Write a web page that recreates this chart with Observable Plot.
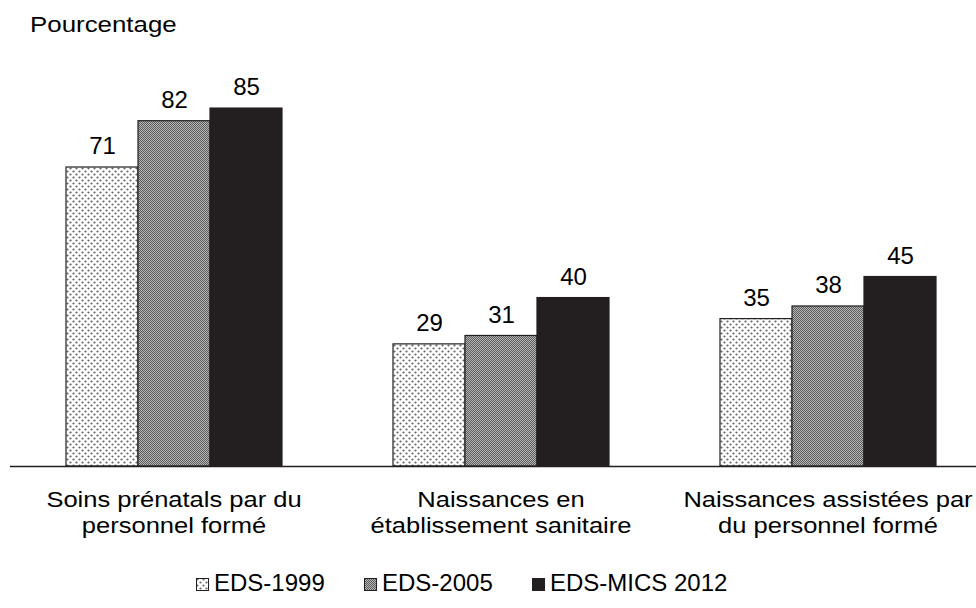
<!DOCTYPE html>
<html>
<head>
<meta charset="utf-8">
<script src="https://cdn.jsdelivr.net/npm/d3@7"></script>
<script src="https://cdn.jsdelivr.net/npm/@observablehq/plot@0.6"></script>
<style>
  html, body { margin: 0; padding: 0; background: #fff; overflow: hidden; width: 976px; height: 608px; }
  body { font-family: "Liberation Sans", Arial, sans-serif; color: #000; position: relative; }
  #title { position: absolute; left: 30px; top: 14px; font-size: 22.5px; line-height: 1; transform: scaleX(1.15); transform-origin: left center; white-space: nowrap; }
  #chart { position: absolute; left: 0; top: 50px; }
  #legend { position: absolute; left: 196px; top: 571px; display: flex; font-size: 24px; line-height: 1; }
  #legend .item { width: 168px; display: flex; align-items: flex-end; white-space: nowrap; }
  #legend svg { margin-right: 5px; margin-bottom: 4px; flex: none; }
</style>
</head>
<body>
<div id="title">Pourcentage</div>
<div id="chart"></div>
<div id="legend"></div>
<script>
const categories = ["Soins prénatals par du personnel formé", "Naissances en établissement sanitaire", "Naissances assistées par du personnel formé"];
const categoryLabels = ["Soins prénatals par du\npersonnel formé", "Naissances en\nétablissement sanitaire", "Naissances assistées par\ndu personnel formé"];
const series = ["EDS-1999", "EDS-2005", "EDS-MICS 2012"];
const values1999 = [71, 29, 35];
const values2005 = [82, 31, 38];
const values2012 = [85, 40, 45];

const seriesValues = [values1999, values2005, values2012];
const rows = series.flatMap((s, j) => categories.map((c, i) => ({cat: c, series: s, value: seriesValues[j][i]})));
const fills = ["url(#p1999)", "url(#p2005)", "#231f20"];

const svg = Plot.plot({
  width: 976,
  height: 510,
  marginLeft: 10,
  marginRight: -15,
  marginTop: 37,
  marginBottom: 94,
  style: {fontFamily: "Liberation Sans, Arial, sans-serif", overflow: "visible"},
  fx: {domain: categories, padding: 0, axis: null},
  x: {domain: series, paddingInner: 0, paddingOuter: 0.74, axis: null},
  y: {domain: [0, 90], axis: null},
  color: {domain: series, range: fills},
  marks: [
    Plot.barY(rows, {fx: "cat", x: "series", y: "value", fill: "series", stroke: "#231f20", strokeWidth: 1.2}),
    Plot.text(rows, {fx: "cat", x: "series", y: "value", text: d => String(d.value), dy: -21, fontSize: 24, fill: "#000"}),
    Plot.ruleY([0], {stroke: "#231f20", strokeWidth: 1.6}),
    Plot.text(categories, {fx: d => d, text: (d, i) => categoryLabels[i], frameAnchor: "bottom", lineAnchor: "top", dy: 22, fontSize: 22, lineHeight: 1.18, fill: "#000", className: "catlabel"})
  ]
});

// slightly wide lettering of the category labels, as in the reference
d3.select(svg).selectAll(".catlabel text").each(function() {
  const t = this.getAttribute("transform") || "";
  this.setAttribute("transform", t + " scale(1.16,1)");
});

const defs = d3.select(svg).insert("defs", ":first-child");
const p1 = defs.append("pattern").attr("id", "p1999").attr("patternUnits", "userSpaceOnUse").attr("width", 6).attr("height", 6);
p1.append("rect").attr("width", 6).attr("height", 6).attr("fill", "#fff");
p1.append("circle").attr("cx", 1.5).attr("cy", 1.5).attr("r", 1.1).attr("fill", "#666");
p1.append("circle").attr("cx", 4.5).attr("cy", 4.5).attr("r", 1.1).attr("fill", "#666");
const p2 = defs.append("pattern").attr("id", "p2005").attr("patternUnits", "userSpaceOnUse").attr("width", 2).attr("height", 2);
p2.append("rect").attr("width", 2).attr("height", 2).attr("fill", "#b8b8b8");
p2.append("rect").attr("x", 0).attr("y", 0).attr("width", 1).attr("height", 1).attr("fill", "#5a5a5a");
p2.append("rect").attr("x", 1).attr("y", 1).attr("width", 1).attr("height", 1).attr("fill", "#5a5a5a");

document.getElementById("chart").appendChild(svg);

const legend = d3.select("#legend");
series.forEach((s, j) => {
  const item = legend.append("div").attr("class", "item");
  const sw = item.append("svg").attr("width", 13).attr("height", 13);
  sw.append("rect").attr("x", 0.5).attr("y", 0.5).attr("width", 12).attr("height", 12)
    .attr("fill", fills[j]).attr("stroke", "#231f20").attr("stroke-width", 1);
  item.append("span").text(s);
});
</script>
</body>
</html>
